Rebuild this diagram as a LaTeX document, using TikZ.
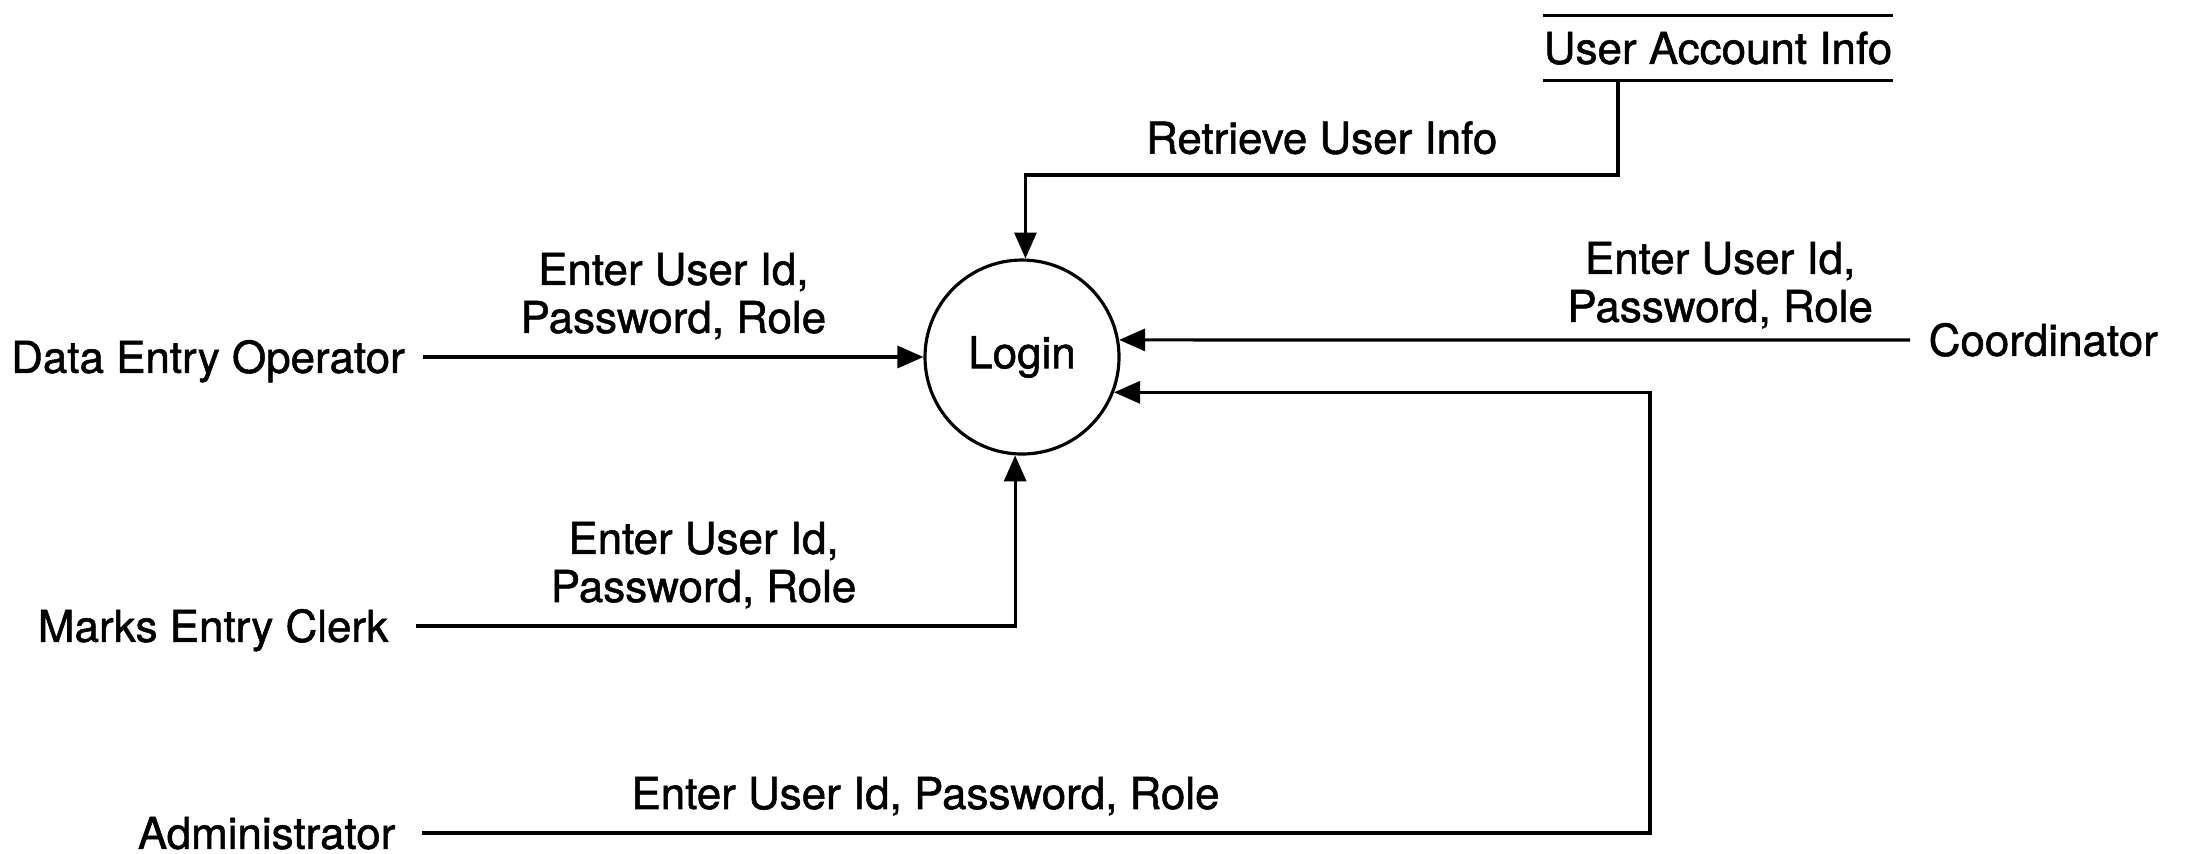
\documentclass[tikz,border=0pt]{standalone}
\usepackage{fontspec}
\setmainfont{TeX Gyre Heros}[FakeBold=1.2]
\usetikzlibrary{
  arrows.meta,
  positioning
}
\newcommand{\dfdfont}{\fontsize{12.5}{13.7}\selectfont}
\tikzset{
  process/.style={draw,circle,line width=0.9pt,minimum size=19.4mm,
    inner sep=0pt,font=\dfdfont},
  ext/.style={inner sep=0pt,text height=9pt,text depth=0pt,font=\dfdfont},
  store/.style={inner xsep=0pt,inner ysep=1.6mm,text height=9pt,
    text depth=0pt,font=\dfdfont},
  storeline/.style={line width=1.1pt},
  flow/.style={-{Triangle[length=2.6mm,width=2.2mm]},line width=0.9pt},
  lab/.style={inner sep=0pt,align=center,font=\dfdfont}
}

\begin{document}
\begin{tikzpicture}
  \useasboundingbox (0,0) rectangle (21.86,-8.53);
  \node[process] (login) at (10.22,-3.57) {Login};
  \node[ext,left=51.8mm of login] (deo) {Data Entry Operator};
  \node[ext,anchor=east] (mec) at (3.89,-6.26) {Marks Entry Clerk};
  \node[ext,anchor=east] (adm) at (3.96,-8.33) {Administrator};
  \node[ext,anchor=west] (coord) at (19.28,-3.40) {Coordinator};
  \node[store] (uai) at (17.18,-0.48) {User Account Info};
  \draw[storeline] (uai.north west)--(uai.north east)
    (uai.south west)--(uai.south east);
  \coordinate (uaiturn) at (16.18,-1.75);
  \coordinate (mecturn) at (login.266 |- mec);
  \coordinate (admturn) at (16.50,-8.33);
  \draw[flow] ([xshift=1.8mm]deo.east)--node[lab,above=1.6mm]{Enter User Id,\\Password, Role}(login.west);
  \draw[flow] ([xshift=2.7mm]mec.east)--node[lab,above=1.6mm,pos=0.48]{Enter User Id,\\Password, Role}(mecturn)--(login.266);
  \draw[flow] ([xshift=2.6mm]adm.east)--node[lab,above=1.6mm,pos=0.41]{Enter User Id, Password, Role}(admturn)|-(login.-21);
  \draw[flow] ([xshift=-1.8mm]coord.west)--node[lab,above=1mm,pos=0.24]{Enter User Id,\\Password, Role}(login.10);
  \draw[flow] (uai.south -| uaiturn)--(uaiturn)--node[lab,above=1.9mm]{Retrieve User Info}(uaiturn -| login.88)--(login.88);
\end{tikzpicture}
\end{document}
